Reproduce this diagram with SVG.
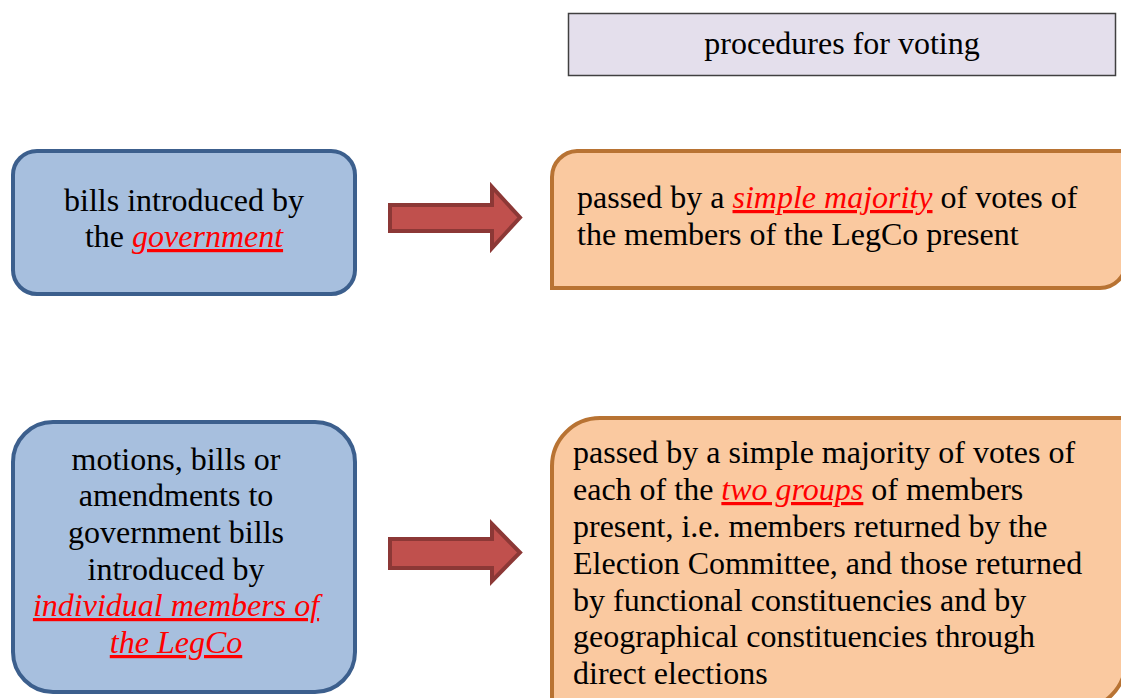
<svg xmlns="http://www.w3.org/2000/svg" width="1121" height="698" viewBox="0 0 1121 698">
<style>
text{font-family:'Liberation Serif','Times New Roman',serif;font-size:32px;fill:#000}
.c{text-anchor:middle}
.r{fill:#FF0000;font-style:italic;text-decoration:underline}
.blue{fill:#A7BFDE;stroke:#3C5F8D;stroke-width:4}
.orange{fill:#FAC9A0;stroke:#B87333;stroke-width:4}
.arrow{fill:#C0504D;stroke:#8C3836;stroke-width:4;stroke-linejoin:miter}
</style>
<rect width="1121" height="698" fill="#fff"/>
<g id="header">
<rect x="568.5" y="13.5" width="547" height="62" fill="#E4DFEC" stroke="#404040" stroke-width="1.5"/>
<text class="c" x="842" y="54">procedures for voting</text>
</g>
<g id="gov">
<rect class="blue" x="13" y="151" width="342" height="143" rx="24"/>
<text class="c" x="184" y="211">bills introduced by</text>
<text class="c" x="184" y="247">the <tspan class="r">government</tspan></text>
</g>
<g id="simple">
<path class="orange" d="M577,151 H1126 V262 A26,26 0 0 1 1100,288 H552 V177 A26,26 0 0 1 577,151 Z"/>
<text x="577" y="208">passed by a <tspan class="r">simple majority</tspan> of votes of</text>
<text x="577" y="245">the members of the LegCo present</text>
</g>
<g id="members">
<rect class="blue" x="13" y="422" width="342" height="270" rx="40"/>
<text class="c" x="176" y="470">motions, bills or</text>
<text class="c" x="176" y="506">amendments to</text>
<text class="c" x="176" y="543">government bills</text>
<text class="c" x="176" y="580">introduced by</text>
<text class="c" x="176" y="616"><tspan class="r">individual members of</tspan></text>
<text class="c" x="176" y="653"><tspan class="r">the LegCo</tspan></text>
</g>
<g id="groups">
<path class="orange" d="M600,418 H1126 V660 A50,50 0 0 1 1076,710 H552 V466 A48,48 0 0 1 600,418 Z"/>
<text x="573" y="463">passed by a simple majority of votes of</text>
<text x="573" y="500">each of the <tspan class="r">two groups</tspan> of members</text>
<text x="573" y="537">present, i.e. members returned by the</text>
<text x="573" y="574">Election Committee, and those returned</text>
<text x="573" y="611">by functional constituencies and by</text>
<text x="573" y="647">geographical constituencies through</text>
<text x="573" y="684">direct elections</text>
</g>
<g id="connectors">
<path class="arrow" d="M390,205 H492 V187 L520,217.5 L492,248 V231 H390 Z"/>
<path class="arrow" d="M390,539 H492 V524 L520,552.5 L492,581 V568 H390 Z"/>
</g>
</svg>
